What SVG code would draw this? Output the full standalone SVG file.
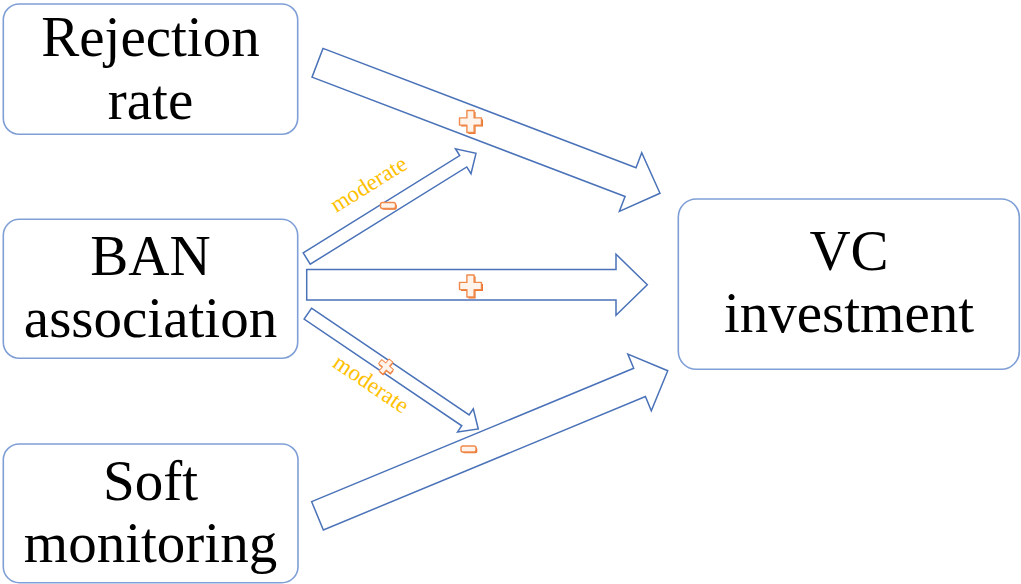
<svg xmlns="http://www.w3.org/2000/svg" width="1021" height="584" viewBox="0 0 1021 584">
  <style>
    .box { fill: #ffffff; stroke: #7f9fd6; stroke-width: 1.6; }
    .label { font-family: "Liberation Serif", "Times New Roman", serif; font-size: 57px; fill: #000000; text-anchor: middle; }
    .arrow { fill: #ffffff; stroke: #4a72b8; stroke-width: 1.5; stroke-linejoin: miter; }
    .mod { font-family: "Liberation Serif", "Times New Roman", serif; font-size: 23px; fill: #ffc000; text-anchor: middle; }
    .sign-shadow { fill: #e8742e; }
    .sign { fill: #fff4ec; stroke: #f08a4b; stroke-width: 1.4; stroke-linejoin: round; }
  </style>
  <defs>
    <path id="plus" d="M -3.6,-11 H 3.6 V -3.6 H 11 V 3.6 H 3.6 V 11 H -3.6 V 3.6 H -11 V -3.6 H -3.6 Z"/>
    <rect id="minus" x="-7.5" y="-3" width="15" height="6" rx="2"/>
    <g id="plusSign">
      <use href="#plus" class="sign-shadow" transform="translate(1.5,1.5)"/>
      <use href="#plus" class="sign"/>
    </g>
    <g id="minusSign">
      <use href="#minus" class="sign-shadow" transform="translate(1.3,1.3)"/>
      <use href="#minus" class="sign"/>
    </g>
  </defs>

  <!-- connectors: block arrows -->
  <g id="connectors">
    <polygon class="arrow" transform="translate(317.5,62.8) rotate(20.86)" points="0,-15.4 335,-15.4 335,-31.4 366.5,0 335,31.4 335,15.4 0,15.4"/>
    <polygon class="arrow" transform="translate(306.7,284.7)" points="0,-15.3 309.3,-15.3 309.3,-30.5 340.6,0 309.3,30.5 309.3,15.3 0,15.3"/>
    <polygon class="arrow" transform="translate(317.5,515.8) rotate(-22.5)" points="0,-15.3 348.6,-15.3 348.6,-30.7 379.1,0 348.6,30.7 348.6,15.3 0,15.3"/>
    <polygon class="arrow" transform="translate(306.7,258.5) rotate(-31.85)" points="0,-6.7 184.3,-6.7 184.3,-14.7 199.3,0 184.3,14.7 184.3,6.7 0,6.7"/>
    <polygon class="arrow" transform="translate(307.8,313.7) rotate(34.07)" points="0,-6.6 190.3,-6.6 190.3,-14 205.8,0 190.3,14 190.3,6.6 0,6.6"/>

    <!-- effect signs -->
    <use href="#plusSign" transform="translate(470.5,121.5)"/>
    <use href="#plusSign" transform="translate(470.5,286)"/>
    <use href="#minusSign" transform="translate(388,205.5)"/>
    <use href="#minusSign" transform="translate(468.5,449)"/>
    <use href="#plusSign" transform="translate(386,366.5) rotate(40) scale(0.7)"/>

    <!-- moderation labels -->
    <text class="mod" transform="translate(372.5,190.5) rotate(-31.85)">moderate</text>
    <text class="mod" transform="translate(367,390) rotate(34.07)">moderate</text>
  </g>

  <g id="node-rejection">
    <rect class="box" x="3.3" y="4" width="294.4" height="130.3" rx="16"/>
    <text class="label" x="150.5" y="56">Rejection</text>
    <text class="label" x="150.5" y="119">rate</text>
  </g>

  <g id="node-ban">
    <rect class="box" x="3.3" y="219.3" width="294.4" height="139" rx="16"/>
    <text class="label" x="150.5" y="275">BAN</text>
    <text class="label" x="150.5" y="337">association</text>
  </g>

  <g id="node-soft">
    <rect class="box" x="3.3" y="444" width="294.7" height="138.7" rx="16"/>
    <text class="label" x="150.5" y="500">Soft</text>
    <text class="label" x="150.5" y="562">monitoring</text>
  </g>

  <g id="node-vc">
    <rect class="box" x="678.3" y="199" width="341" height="170.3" rx="18"/>
    <text class="label" x="849" y="270">VC</text>
    <text class="label" x="849" y="332">investment</text>
  </g>
</svg>
